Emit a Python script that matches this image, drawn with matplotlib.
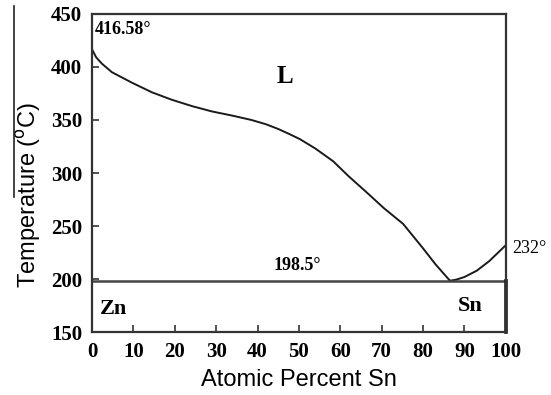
import matplotlib.pyplot as plt
from matplotlib.lines import Line2D

# Liquidus Zn-rich side (at% Sn, °C)
liq_zn_x = [0, 1, 2.4, 4.8, 9.7, 14.5, 19.3, 24.2, 29, 34, 38.5, 42, 45, 47.8, 50.2,
            54, 58.3, 62, 66.3, 70.5, 75.2, 80, 83, 86.5]
liq_zn_t = [416.58, 409, 403, 395, 385, 376, 369, 363, 358, 354, 350, 346, 341.5, 336.5, 332,
            323, 311, 297, 282, 267, 252, 229, 214, 198.5]
# Liquidus Sn-rich side
liq_sn_x = [86.5, 88, 90, 93, 96, 100]
liq_sn_t = [198.5, 199.5, 202, 208, 217, 232]
# eutectic line
eut_x = [0, 100]
eut_t = [198.5, 198.5]

xticks = [0, 10, 20, 30, 40, 50, 60, 70, 80, 90, 100]
yticks = [150, 200, 250, 300, 350, 400, 450]

fig = plt.figure(figsize=(5.51, 3.95), dpi=100)
ax = fig.add_axes([0.167, 0.159, 0.751, 0.806])

ax.plot(liq_zn_x, liq_zn_t, color='#1a1a1a', lw=1.4)
ax.plot(liq_sn_x, liq_sn_t, color='#1a1a1a', lw=1.4)
ax.plot(eut_x, eut_t, color='#444444', lw=1.8)
ax.plot([100, 100], [150, 198.5], color='#1a1a1a', lw=2.6, clip_on=False)

ax.set_xlim(0, 100)
ax.set_ylim(150, 450)
ax.set_xticks(xticks)
ax.set_yticks(yticks)
for s in ax.spines.values():
    s.set_linewidth(1.6)
    s.set_color('#333333')
ax.tick_params(direction='in', length=5, width=1.2, color='#333333', pad=7)
for lab in ax.get_xticklabels() + ax.get_yticklabels():
    lab.set_fontfamily('Liberation Serif')
    lab.set_fontweight('bold')
    lab.set_fontsize(15)

ax.set_xlabel('Atomic Percent Sn', fontsize=17, family='Liberation Sans', labelpad=5)
ax.set_ylabel('Temperature ($^{\\rm o}$C)', fontsize=17, family='Liberation Sans')
ax.yaxis.set_label_coords(-0.118, 0.43)

serif = 'Liberation Serif'
ax.text(0.6, 435, '416.58°', fontsize=13, family=serif, fontweight='bold', va='center')
ax.text(46.7, 391, 'L', fontsize=18, family=serif, fontweight='bold', ha='center', va='center')
ax.text(49.5, 213, '198.5°', fontsize=13, family=serif, fontweight='bold', ha='center', va='center')
ax.text(5.3, 172, 'Zn', fontsize=16, family=serif, fontweight='bold', ha='center', va='center')
ax.text(91.4, 175, 'Sn', fontsize=16, family=serif, fontweight='bold', ha='center', va='center')
ax.text(101.5, 229, '232°', fontsize=13, family=serif, va='center', clip_on=False)

# stray line left of the y label
fig.add_artist(Line2D([14 / 551, 14 / 551], [1 - 6 / 395, 1 - 197 / 395], color='#222222', lw=1.2))

fig.savefig('out.png', dpi=100)
